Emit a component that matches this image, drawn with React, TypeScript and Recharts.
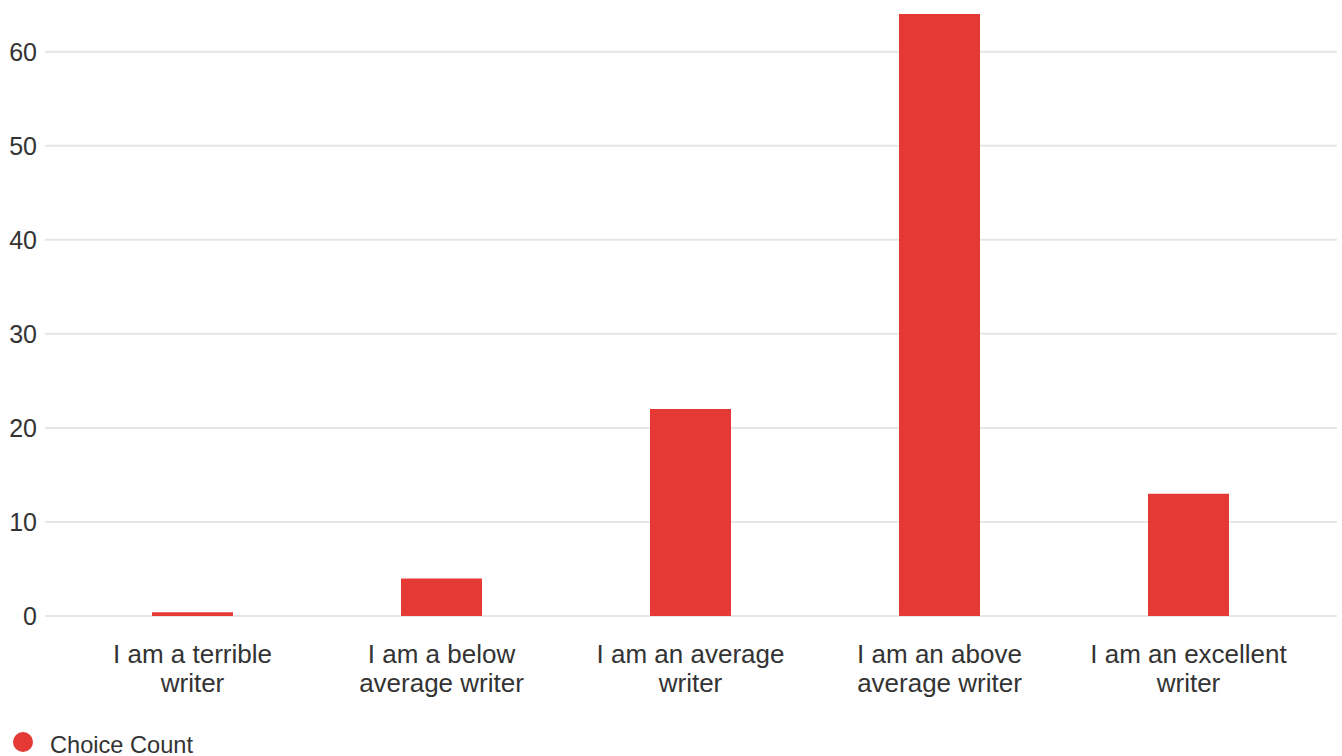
import { BarChart, Bar, XAxis, YAxis, CartesianGrid, Legend } from "recharts";

const categories = [
  "I am a terrible writer",
  "I am a below average writer",
  "I am an average writer",
  "I am an above average writer",
  "I am an excellent writer",
];
const choiceCount = [0.4, 4, 22, 64, 13];
const yTicks = [0, 10, 20, 30, 40, 50, 60];

const data = categories.map((name, i) => ({ name, count: choiceCount[i] }));

const RED = "#e53935";
const TEXT = "#333333";
const FONT = "'Liberation Sans', Arial, sans-serif";

// split a label into lines of at most `max` characters
function wrap(label: string, max = 17): string[] {
  const lines: string[] = [];
  let cur = "";
  for (const w of label.split(" ")) {
    const next = cur ? cur + " " + w : w;
    if (next.length > max && cur) {
      lines.push(cur);
      cur = w;
    } else {
      cur = next;
    }
  }
  if (cur) lines.push(cur);
  return lines;
}

function CategoryTick(props: any) {
  const { x, y, payload } = props;
  const lines = wrap(String(payload.value));
  return (
    <text x={x} y={y} textAnchor="middle" fill={TEXT} fontSize={26} fontFamily={FONT}>
      {lines.map((l, i) => (
        <tspan key={i} x={x} y={y + 47 + i * 29}>
          {l}
        </tspan>
      ))}
    </text>
  );
}

function LegendContent() {
  return (
    <svg width={400} height={28} style={{ display: "block" }}>
      <circle cx={23} cy={14} r={10} fill={RED} />
      <text x={50} y={25} fill={TEXT} fontSize={23.6} fontFamily={FONT}>
        Choice Count
      </text>
    </svg>
  );
}

export default function App() {
  return (
    <div style={{ position: "absolute", left: 0, top: 0, width: 1342, height: 756, background: "#fff" }}>
      <BarChart
        width={1342}
        height={756}
        data={data}
        margin={{ top: 14, right: 5, left: 0, bottom: 0 }}
        barSize={81}
      >
        <CartesianGrid vertical={false} horizontalValues={yTicks} stroke="#e6e6e6" strokeWidth={2} />
        <XAxis
          dataKey="name"
          axisLine={false}
          tickLine={false}
          tickSize={0}
          tickMargin={0}
          height={112}
          interval={0}
          padding={{ left: 23, right: 24 }}
          tick={<CategoryTick />}
        />
        <YAxis
          domain={[0, 64]}
          ticks={yTicks}
          width={45}
          axisLine={false}
          tickLine={false}
          tick={{ fill: TEXT, fontSize: 25, fontFamily: FONT }}
        />
        <Legend verticalAlign="bottom" align="left" height={28} content={<LegendContent />} />
        <Bar dataKey="count" name="Choice Count" fill={RED} isAnimationActive={false} />
      </BarChart>
    </div>
  );
}
